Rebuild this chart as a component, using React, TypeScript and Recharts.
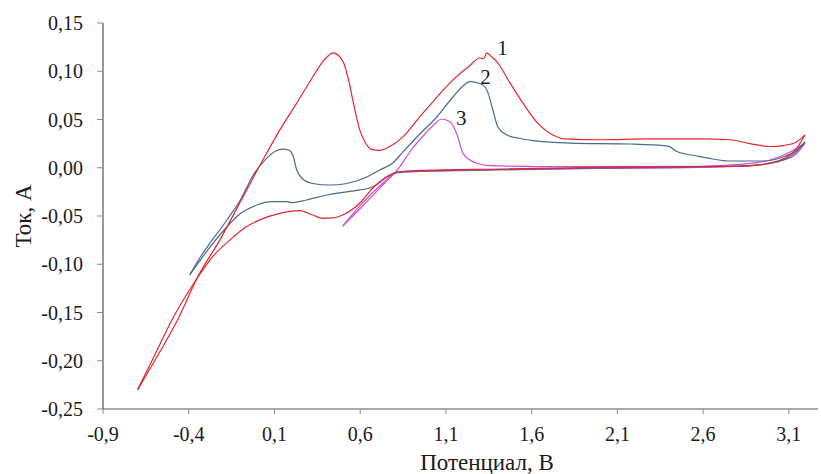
import { LineChart, Line, XAxis, YAxis, ReferenceDot, Label } from 'recharts'

type Pair = [number, number]

// кривая 1 (красная): прямой ход и обратный ход
const curve1Fwd: Pair[] = [
  [-0.698, -0.23], [-0.569, -0.191], [-0.452, -0.153], [-0.353, -0.115], [-0.219, -0.075],
  [-0.062, -0.023], [0.032, 0.008], [0.131, 0.039], [0.23, 0.067], [0.323, 0.094],
  [0.382, 0.11], [0.415, 0.116], [0.44, 0.119], [0.46, 0.118], [0.481, 0.115],
  [0.505, 0.108], [0.522, 0.098], [0.54, 0.085], [0.557, 0.07], [0.598, 0.039],
  [0.627, 0.027], [0.668, 0.019], [0.714, 0.018], [0.773, 0.022], [0.849, 0.032],
  [0.948, 0.053], [1.047, 0.073], [1.141, 0.091], [1.24, 0.106], [1.298, 0.114],
  [1.32, 0.113], [1.339, 0.119], [1.36, 0.116], [1.397, 0.11], [1.473, 0.088],
  [1.549, 0.067], [1.631, 0.047], [1.724, 0.034], [1.794, 0.03], [1.998, 0.029],
  [2.29, 0.03], [2.582, 0.03], [2.757, 0.029], [2.873, 0.025], [2.99, 0.022],
  [3.066, 0.023], [3.147, 0.027], [3.194, 0.034],
]
const curve1Back: Pair[] = [
  [3.194, 0.034], [3.136, 0.018], [3.077, 0.01], [2.99, 0.005], [2.873, 0.002], [2.582, 0.0013],
  [1.998, 0.0003], [1.414, -0.0013], [0.948, -0.0028], [0.813, -0.0044], [0.744, -0.0106],
  [0.674, -0.021], [0.598, -0.0365], [0.51, -0.048], [0.44, -0.052], [0.382, -0.0524],
  [0.323, -0.049], [0.248, -0.0445], [0.131, -0.0472], [0.014, -0.054], [-0.062, -0.061],
  [-0.161, -0.075], [-0.26, -0.092], [-0.377, -0.1215], [-0.499, -0.158], [-0.598, -0.194],
  [-0.698, -0.23],
]

// кривая 2 (синяя)
const curve2Fwd: Pair[] = [
  [-0.394, -0.111], [-0.336, -0.0935], [-0.276, -0.078], [-0.219, -0.0645], [-0.161, -0.05],
  [-0.102, -0.0345], [-0.027, -0.0085], [0.055, 0.01], [0.108, 0.0174], [0.148, 0.0194],
  [0.183, 0.0184], [0.207, 0.0132], [0.23, -0.0023], [0.259, -0.0106], [0.323, -0.0163],
  [0.423, -0.0179], [0.522, -0.0163], [0.639, -0.0096], [0.714, -0.0023], [0.79, 0.0049],
  [0.849, 0.0163], [0.948, 0.035], [1.047, 0.0526], [1.141, 0.0733], [1.199, 0.0847],
  [1.24, 0.0892], [1.298, 0.0873], [1.339, 0.0806], [1.374, 0.0598], [1.403, 0.0422],
  [1.456, 0.0339], [1.531, 0.0303], [1.666, 0.027], [1.823, 0.0256], [2.173, 0.0246],
  [2.395, 0.0225], [2.447, 0.0168], [2.564, 0.0122], [2.657, 0.0091], [2.756, 0.007],
  [2.949, 0.007], [3.066, 0.0111], [3.147, 0.0184], [3.194, 0.0267],
]
const curve2Back: Pair[] = [
  [3.194, 0.0267], [3.136, 0.0153], [3.066, 0.008], [2.961, 0.0039], [2.815, 0.0018], [2.582, 0.0008],
  [1.998, -0.0003], [1.414, -0.0018], [0.948, -0.0034], [0.831, -0.0044], [0.755, -0.0096],
  [0.692, -0.0179], [0.656, -0.021], [0.598, -0.023], [0.405, -0.0282], [0.288, -0.0334],
  [0.201, -0.0362], [0.172, -0.0352], [0.09, -0.0352], [-0.003, -0.0386], [-0.102, -0.048],
  [-0.178, -0.0614], [-0.266, -0.08], [-0.336, -0.0966], [-0.394, -0.111],
]

// кривая 3 (фиолетовая)
const curve3Fwd: Pair[] = [
  [0.498, -0.0604], [0.609, -0.0407], [0.732, -0.0179], [0.831, 0.0008], [0.889, 0.0163],
  [0.983, 0.036], [1.041, 0.0464], [1.074, 0.0505], [1.123, 0.0477], [1.162, 0.0357],
  [1.199, 0.0153], [1.24, 0.008], [1.298, 0.0039], [1.356, 0.0021], [1.823, 0.0011],
  [2.582, 0.0015], [2.815, 0.0034], [2.99, 0.008], [3.107, 0.0163], [3.194, 0.0256],
]
const curve3Back: Pair[] = [
  [3.194, 0.0256], [3.136, 0.0132], [3.048, 0.007], [2.932, 0.0029], [2.582, 0.0003], [1.998, -0.0008],
  [1.414, -0.0023], [0.948, -0.0039], [0.813, -0.0054], [0.714, -0.0189], [0.598, -0.0396],
  [0.498, -0.0604],
]

const xTicks = [-0.9, -0.4, 0.1, 0.6, 1.1, 1.6, 2.1, 2.6, 3.1]
const yTicks = [-0.25, -0.2, -0.15, -0.1, -0.05, 0, 0.05, 0.1, 0.15]

// подписи номеров кривых
const curveLabels: { n: string; x: number; y: number }[] = [
  { n: '1', x: 1.43, y: 0.1248 },
  { n: '2', x: 1.331, y: 0.094 },
  { n: '3', x: 1.189, y: 0.0516 },
]

// обратный ход переворачиваем, чтобы x шёл по возрастанию (для monotone)
const toPts = (c: Pair[]) =>
  [...c].sort((a, b) => a[0] - b[0]).map(([x, y]) => ({ x, y }))
const comma = (v: number, d: number) => v.toFixed(d).replace('.', ',')

const font = '"Liberation Serif", "DejaVu Serif", serif'
const tickStyle = { fontFamily: font, fontSize: 20, fill: '#1a1a1a' }

const series = [
  { id: '3f', data: curve3Fwd, color: '#c94fd0' },
  { id: '3b', data: curve3Back, color: '#c94fd0' },
  { id: '2f', data: curve2Fwd, color: '#4a6a8a' },
  { id: '2b', data: curve2Back, color: '#4a6a8a' },
  { id: '1f', data: curve1Fwd, color: '#e3262e' },
  { id: '1b', data: curve1Back, color: '#e3262e' },
]

export default function App() {
  return (
    <div style={{ position: 'absolute', left: 0, top: 0, background: '#fff', fontFamily: font }}>
      <LineChart width={821} height={474} margin={{ top: 23, right: 3, bottom: 25, left: 43 }}>
        <XAxis
          dataKey="x" type="number" domain={[-0.9, 3.27]} ticks={xTicks} interval={0}
          allowDataOverflow tickFormatter={v => comma(v, 1)}
          tick={tickStyle} tickSize={5} tickMargin={13} height={40}
          axisLine={{ stroke: '#8c8c8c', strokeWidth: 1.5 }} tickLine={{ stroke: '#8c8c8c' }}
        >
          <Label
            content={() => (
              <text x={487} y={470} textAnchor="middle" fontFamily={font} fontSize={23} fill="#1a1a1a">
                Потенциал, В
              </text>
            )}
          />
        </XAxis>
        <YAxis
          dataKey="y" type="number" domain={[-0.25, 0.15]} ticks={yTicks} interval={0}
          allowDataOverflow tickFormatter={v => comma(v, 2)}
          tick={tickStyle} tickSize={6} tickMargin={14} width={60}
          axisLine={{ stroke: '#333' }} tickLine={{ stroke: '#8c8c8c' }}
        >
          <Label
            content={() => (
              <text x={31} y={216} transform="rotate(-90 31 216)" textAnchor="middle"
                fontFamily={font} fontSize={23} fill="#1a1a1a">
                Ток, А
              </text>
            )}
          />
        </YAxis>

        {series.map(s => (
          <Line key={s.id} data={toPts(s.data)} dataKey="y" type="monotone" stroke={s.color}
            strokeWidth={1.2} dot={false} activeDot={false} isAnimationActive={false} />
        ))}

        {curveLabels.map(l => (
          <ReferenceDot key={l.n} x={l.x} y={l.y} r={0} fill="none" stroke="none"
            label={{ value: l.n, position: 'center', fontFamily: font, fontSize: 21, fill: '#1a1a1a' }} />
        ))}
      </LineChart>
    </div>
  )
}
